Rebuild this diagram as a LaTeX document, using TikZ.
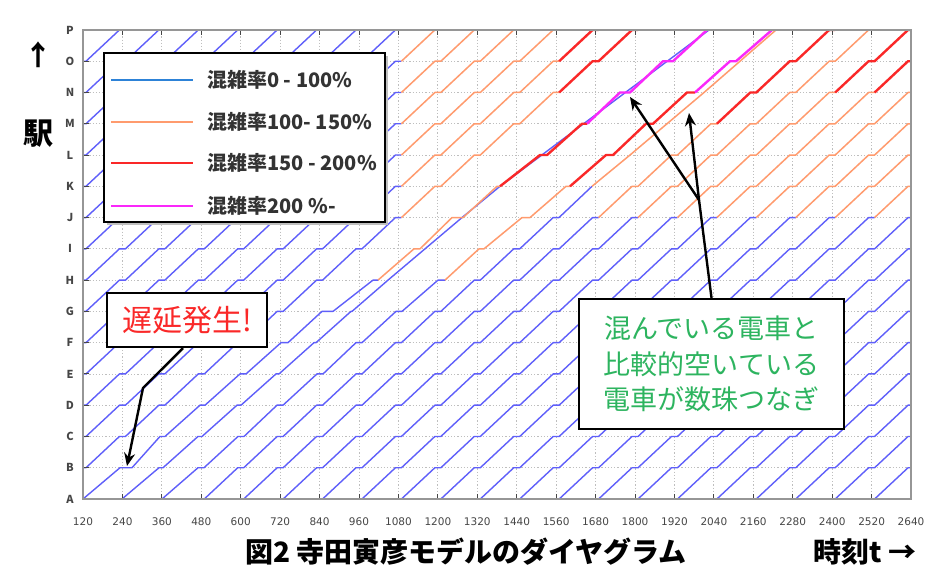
\documentclass[tikz,border=0pt]{standalone}
\usepackage{fontspec}
\setmainfont{Noto Sans CJK JP}
\newfontfamily\tickfont{DejaVu Sans}
\usetikzlibrary{arrows.meta}
\definecolor{tblue}{RGB}{95,95,250}
\definecolor{torange}{RGB}{255,155,110}
\definecolor{tred}{RGB}{250,40,40}
\definecolor{tmag}{RGB}{250,40,250}
\definecolor{lblue}{RGB}{45,130,215}
\definecolor{tgreen}{RGB}{45,180,95}
\definecolor{gridc}{RGB}{190,190,190}
\definecolor{framec}{RGB}{150,150,150}
\definecolor{labc}{RGB}{70,70,70}
\tikzset{
  bl/.style={tblue, line width=1.4pt, line join=round},
  og/.style={torange, line width=1.5pt, line join=round},
  rd/.style={tred, line width=2.4pt, line join=round},
  mg/.style={tmag, line width=2.4pt, line join=round},
  gridline/.style={gridc, line width=0.8pt, dash pattern=on 1.2pt off 2pt},
  tickmark/.style={labc, line width=1pt},
  annot/.style={draw=black, line width=2.2pt, fill=white, inner sep=0pt},
  pointer/.style={black, line width=2.4pt, line join=round, -{Stealth[length=13pt,width=11pt]}},
  ticklab/.style={font=\tickfont\fontsize{10.5}{12}\selectfont, text=labc, inner sep=0pt},
  stlab/.style={font=\fontsize{11}{12}\selectfont\bfseries, text=labc, inner sep=0pt},
  legtxt/.style={font=\fontsize{20}{22}\selectfont\bfseries, text=black!80, anchor=west, inner sep=0pt},
}
\newcommand\gtrain[4]{%
  \pgfmathtruncatemacro\gtA{#3+1}%
  \draw[#1] ({83+39.43*(#2+#3)+3},{499-31.27*(#3)})
    \foreach \gn in {\gtA,...,#4} { -- ({83+39.43*(#2+\gn)-3},{499-31.27*\gn}) -- ({83+39.43*(#2+\gn)+3},{499-31.27*\gn}) };%
}
\begin{document}
\begin{tikzpicture}[x=1pt,y=-1pt]
\useasboundingbox (0,0) rectangle (925,567);
\fill[white] (0,0) rectangle (925,567);
% grid
\foreach \i in {1,...,20} \draw[gridline] ({83+39.43*\i},30) -- ({83+39.43*\i},499);
\foreach \n in {1,...,14} \draw[gridline] (83,{499-31.27*\n}) -- (911,{499-31.27*\n});
% trains
\begin{scope}
\clip (83,30) rectangle (911,499);
\foreach \k in {-15,...,-7} {\gtrain{bl}{\k}{0}{15}}
\gtrain{bl}{-6}{0}{14} \gtrain{og}{-6}{14}{15}
\gtrain{bl}{-5}{0}{13} \gtrain{og}{-5}{13}{15}
\gtrain{bl}{-4}{0}{12} \gtrain{og}{-4}{12}{15}
\gtrain{bl}{-3}{0}{11} \gtrain{og}{-3}{11}{15}
\gtrain{bl}{-2}{0}{10} \gtrain{og}{-2}{10}{14} \gtrain{rd}{-2}{14}{15}
\gtrain{bl}{-1}{0}{9} \gtrain{og}{-1}{9}{13} \gtrain{rd}{-1}{13}{15}
% train 1 (catching up)
\draw[bl] (122,499) -- (159,467.73) -- (163,467.73) -- (198,436.46) -- (202,436.46) -- (237,405.19) -- (241,405.19) -- (276,373.92) -- (279,373.92) -- (314,342.65) -- (316,342.65) -- (351,311.38) -- (352,311.38) -- (388,280.11) -- (425,248.84) -- (462,217.57) -- (500,186.3) -- (709,29.95);
% train 0 (delayed)
\draw[bl] (83,499) -- (120,467.73) -- (132,467.73) -- (160,436.46) -- (165,436.46) -- (200,405.19) -- (205,405.19) -- (240,373.92) -- (246,373.92) -- (281,342.65) -- (288,342.65) -- (322,311.38) -- (333,311.38) -- (373,280.11) -- (378,280.11);
\draw[og] (378,280.11) -- (414,248.84) -- (420,248.84) -- (452,217.57) -- (463,217.57) -- (497,186.3) -- (500,186.3);
\draw[rd] (500,186.3) -- (540,155.03) -- (547,155.03) -- (582,123.76) -- (587,123.76);
\draw[mg] (587,123.76) -- (620,92.49) -- (630,92.49) -- (663,61.22) -- (673,61.22) -- (707,29.95);
% train 3
\gtrain{bl}{3}{0}{9}
\draw[bl] (559,217.57) -- (592,186.3);
\draw[og] (592,186.3) -- (630,155.03) -- (667,123.76) -- (704,92.49) -- (740,61.22) -- (776,29.95);
% train 2
\draw[bl] (162,499) -- (198,467.73) -- (204,467.73) -- (238,436.46) -- (244,436.46) -- (277,405.19) -- (283,405.19) -- (317,373.92) -- (323,373.92) -- (356,342.65) -- (362,342.65) -- (396,311.38) -- (402,311.38) -- (438,280.11) -- (445,280.11);
\draw[og] (445,280.11) -- (479,248.84) -- (484,248.84) -- (522,217.57) -- (530,217.57) -- (566,186.3) -- (570,186.3);
\draw[rd] (570,186.3) -- (606,155.03) -- (613,155.03) -- (646,123.76) -- (653,123.76) -- (687,92.49) -- (695,92.49);
\draw[mg] (695,92.49) -- (730,61.22) -- (736,61.22) -- (772,29.95);
% later trains
\gtrain{bl}{4}{0}{9} \gtrain{og}{4}{9}{12} \gtrain{rd}{4}{12}{15}
\gtrain{bl}{5}{0}{9} \gtrain{og}{5}{9}{15}
\gtrain{bl}{6}{0}{9} \gtrain{og}{6}{9}{13} \gtrain{rd}{6}{13}{15}
\gtrain{bl}{7}{0}{9} \gtrain{og}{7}{9}{13} \gtrain{rd}{7}{13}{15}
\foreach \k in {8,...,11} {\gtrain{bl}{\k}{0}{9} \gtrain{og}{\k}{9}{15}}
\foreach \k in {12,...,21} {\gtrain{bl}{\k}{0}{15}}
\end{scope}
% frame and ticks
\foreach \i in {1,...,20} {
  \draw[tickmark] ({83+39.43*\i},30) -- ({83+39.43*\i},35);
  \draw[tickmark] ({83+39.43*\i},499) -- ({83+39.43*\i},494);
}
\foreach \n in {1,...,14} \draw[tickmark] (83,{499-31.27*\n}) -- (89,{499-31.27*\n});
\draw[framec, line width=2.5pt] (83,30) rectangle (911,499);
% axis labels
\foreach \i [evaluate=\i as \tv using int(120+120*\i)] in {0,...,21}
  \node[ticklab] (tx\i) at ({83+39.43*\i},522) {\tv};
\foreach \s [count=\n from 0] in {A,B,C,D,E,F,G,H,I,J,K,L,M,N,O,P}
  \node[stlab] (st\s) at (70,{499-31.27*\n}) {\s};
\node[font=\fontsize{28}{30}\selectfont\bfseries, inner sep=0pt] (uparrow) at (38,55) {↑};
\node[font=\fontsize{30}{32}\selectfont\bfseries, inner sep=0pt] (eki) at (38,134) {駅};
\node[font=\fontsize{28}{30}\selectfont\bfseries, inner sep=0pt] (title) at (466,552) {図2 寺田寅彦モデルのダイヤグラム};
\node[font=\fontsize{28}{30}\selectfont\bfseries, inner sep=0pt, anchor=west] (tlab) at (813,552) {時刻t →};
% legend
\fill[black!25] (107,56) rectangle (388,225);
\node[annot, minimum width=281pt, minimum height=169pt] (legend) at (244.5,137.5) {};
\draw[lblue, line width=2pt] (111,80) -- (193,80);
\draw[torange, line width=2pt] (111,122) -- (193,122);
\draw[tred, line width=2pt] (111,163) -- (193,163);
\draw[tmag, line width=2pt] (111,206) -- (193,206);
\node[legtxt] (l1) at (207,80) {混雑率0 - 100\%};
\node[legtxt] (l2) at (207,122) {混雑率100- 150\%};
\node[legtxt] (l3) at (207,163) {混雑率150 - 200\%};
\node[legtxt] (l4) at (207,206) {混雑率200 \%-};
% annotation 1
\node[annot, minimum width=160pt, minimum height=54pt, text=tred, font=\fontsize{30}{32}\selectfont] (delay) at (187,320) {遅延発生!};
\coordinate (dbend) at (143,388);
\coordinate (dtip) at (127,466);
\draw[pointer] ([xshift=-4pt]delay.south) -- (dbend) -- (dtip);
% annotation 2
\node[annot, minimum width=265pt, minimum height=130pt, text=tgreen, align=center, font=\fontsize{27}{35.5}\selectfont] (bunch) at (711.5,364) {混んでいる電車と\\比較的空いている\\電車が数珠つなぎ};
\coordinate (junc) at (699,200);
\coordinate (tip1) at (630,97);
\coordinate (tip2) at (689,113);
\draw[black, line width=2.4pt] (bunch.north) -- (junc);
\draw[pointer] (junc) -- (tip1);
\draw[pointer] (junc) -- (tip2);
\end{tikzpicture}
\end{document}
